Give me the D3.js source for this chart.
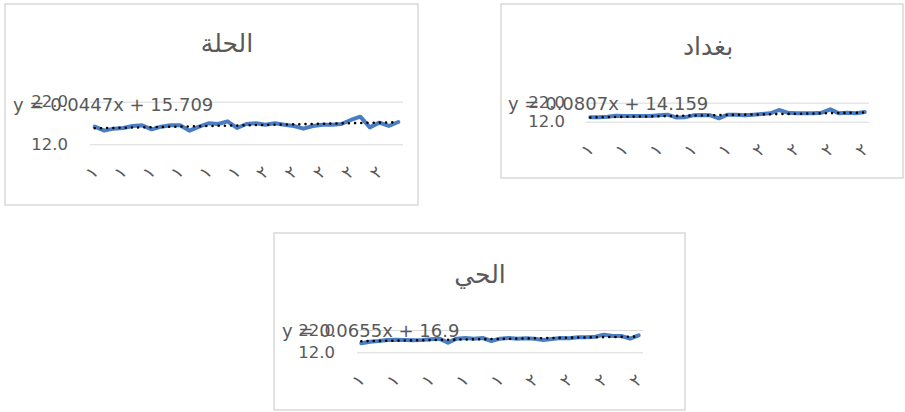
<!DOCTYPE html>
<html>
<head>
<meta charset="utf-8">
<script src="https://cdn.jsdelivr.net/npm/d3@7"></script>
<style>
  html, body { margin: 0; padding: 0; background: #ffffff; }
  svg { display: block; }
</style>
</head>
<body>
<svg id="chart" width="905" height="412"></svg>
<script>
// Years shared by all three stations
const years = [1983, 1984, 1985, 1986, 1987, 1988, 1989, 1990, 1991, 1992, 1993,
               1994, 1995, 1996, 1997, 1998, 1999, 2000, 2001, 2002, 2003, 2004,
               2005, 2006, 2007, 2008, 2009, 2010, 2011, 2012, 2013, 2014, 2015];

// Annual values per station
const hillaValues = [16.14, 15.20, 15.67, 15.83, 16.30, 16.45, 15.51, 16.14, 16.45, 16.45, 15.20,
                     16.14, 16.92, 16.77, 17.39, 15.83, 16.77, 16.92, 16.61, 16.92, 16.61, 16.30,
                     15.67, 16.30, 16.61, 16.61, 16.77, 17.71, 18.49, 15.98, 17.08, 16.30, 17.24];
const baghdadValues = [14.28, 14.28, 14.65, 15.18, 15.00, 15.00, 15.00, 15.00, 15.35, 15.70, 14.23,
                       14.30, 15.35, 15.53, 15.35, 13.77, 15.70, 15.70, 15.35, 15.70, 16.05, 16.40,
                       18.16, 16.75, 16.40, 16.40, 16.40, 16.75, 18.50, 16.40, 16.75, 16.40, 17.10];
const hayValues = [16.02, 16.77, 17.07, 17.52, 17.67, 17.52, 17.37, 17.52, 17.81, 18.11, 16.32,
                   18.11, 18.41, 18.11, 18.41, 17.07, 18.11, 18.41, 18.11, 18.26, 18.11, 17.52,
                   17.96, 18.41, 18.26, 18.71, 18.71, 19.01, 19.90, 19.30, 19.30, 18.11, 19.60];

// Station titles
const titles = ["الحلة", "بغداد", "الحي"];

// Linear trend coefficients (y = slope·x + intercept, x = 1..n)
const slopes = [0.0447, 0.0807, 0.0655];
const intercepts = [15.709, 14.159, 16.9];

// Value axis ticks
const yTicks = [12, 22];

// Category label step per station
const labelSteps = [3, 4, 4];

const arabicDigits = "٠١٢٣٤٥٦٧٨٩";
const yearLabel = yr => arabicDigits[+String(yr)[0]];

// Panel geometry
const panels = [
  { box: [5, 4, 418, 205],   plot: [90, 403, 101.7, 144.3],  title: [227, 52],  eq: [13, 111],  yLab: 68 },
  { box: [501, 4, 903, 178], plot: [586, 869, 102.7, 121.7], title: [708, 55],  eq: [508, 110], yLab: 565 },
  { box: [274, 233, 685, 410], plot: [357, 643, 330, 352.3], title: [480, 283], eq: [282, 337], yLab: 335 }
];
const seriesList = [hillaValues, baghdadValues, hayValues];

const textColor = "#595959";
const svg = d3.select("#chart");

panels.forEach((p, k) => {
  const values = seriesList[k];
  const [bx0, by0, bx1, by1] = p.box;
  const [px0, px1, py0, py1] = p.plot;
  const g = svg.append("g");

  g.append("rect")
    .attr("x", bx0).attr("y", by0)
    .attr("width", bx1 - bx0).attr("height", by1 - by0)
    .attr("fill", "#ffffff")
    .attr("stroke", "#d9d9d9").attr("stroke-width", 1.5);

  const idx = d3.range(values.length);
  const x = d3.scalePoint().domain(idx).range([px0, px1]).padding(0.5);
  const y = d3.scaleLinear().domain([12, 22]).range([py1, py0]);

  // Gridlines
  g.append("g")
    .attr("transform", `translate(${px0},0)`)
    .call(d3.axisLeft(y).tickValues(yTicks).tickSize(-(px1 - px0)).tickFormat(""))
    .call(a => a.select(".domain").remove())
    .call(a => a.selectAll(".tick line").attr("stroke", "#d9d9d9").attr("stroke-width", 1));

  // Value labels
  g.append("g")
    .attr("transform", `translate(${p.yLab},0)`)
    .call(d3.axisLeft(y).tickValues(yTicks).tickSize(0).tickPadding(0).tickFormat(d3.format(".1f")))
    .call(a => a.select(".domain").remove())
    .call(a => a.selectAll("text")
      .attr("fill", textColor)
      .style("font-family", "'DejaVu Sans', sans-serif")
      .style("font-size", "16.5px"));

  // Category labels
  const step = labelSteps[k];
  const labelIdx = idx.filter(i => i % step === 0);
  g.append("g").selectAll("text")
    .data(labelIdx)
    .join("text")
    .attr("transform", i => `translate(${x(i) - 3},${py1 + 28}) rotate(-45)`)
    .attr("text-anchor", "middle")
    .attr("dominant-baseline", "central")
    .attr("fill", textColor)
    .style("font-family", "'DejaVu Sans', sans-serif")
    .style("font-size", "17px")
    .text(i => yearLabel(years[i]));

  // Series line
  g.append("path")
    .datum(values)
    .attr("fill", "none")
    .attr("stroke", "#4a7ec4")
    .attr("stroke-width", 4)
    .attr("stroke-linejoin", "round")
    .attr("stroke-linecap", "round")
    .attr("d", d3.line().x((d, i) => x(i)).y(d => y(d)));

  // Linear trend
  g.append("path")
    .datum(idx)
    .attr("fill", "none")
    .attr("stroke", "#000000")
    .attr("stroke-width", 2.6)
    .attr("stroke-linecap", "round")
    .attr("stroke-dasharray", "0 6.2")
    .attr("d", d3.line().x(i => x(i)).y(i => y(slopes[k] * (i + 1) + intercepts[k])));

  // Trend equation
  g.append("text")
    .attr("x", p.eq[0]).attr("y", p.eq[1])
    .attr("fill", textColor)
    .style("font-family", "'DejaVu Sans', sans-serif")
    .style("font-size", "18px")
    .text(`y = ${slopes[k]}x + ${intercepts[k]}`);

  // Title
  g.append("text")
    .attr("x", p.title[0]).attr("y", p.title[1])
    .attr("text-anchor", "middle")
    .attr("fill", textColor)
    .style("font-family", "'DejaVu Sans', sans-serif")
    .style("font-size", "25px")
    .text(titles[k]);
});
</script>
</body>
</html>
